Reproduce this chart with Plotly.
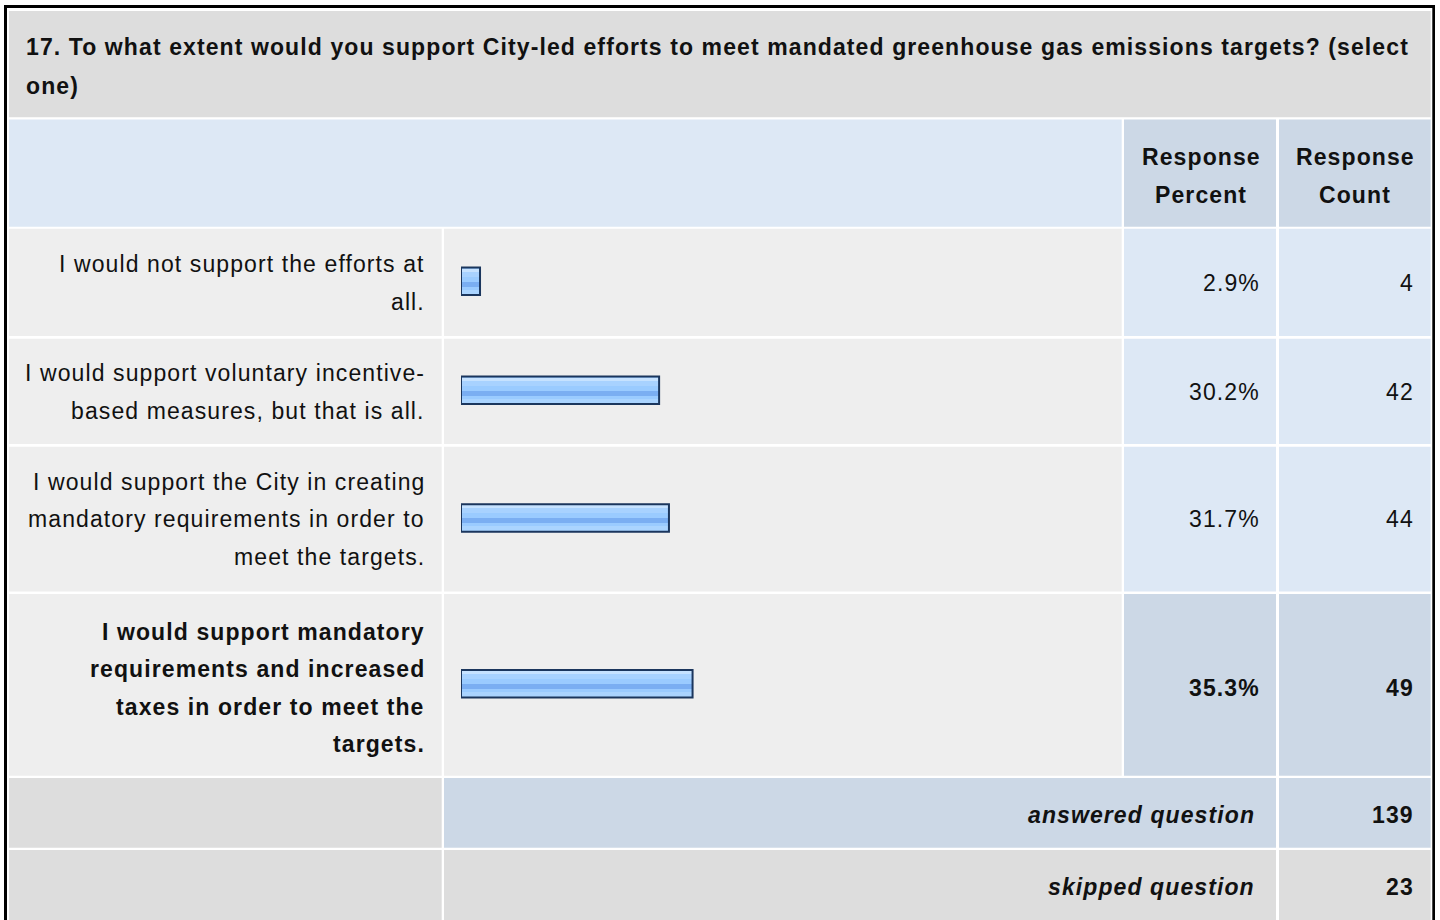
import plotly.graph_objects as go

# ---------------- data ----------------
question_lines = [
    "17. To what extent would you support City-led efforts to meet mandated greenhouse gas emissions targets? (select",
    "one)",
]
answer_options = [
    "I would not support the efforts at<br>all.",
    "I would support voluntary incentive-<br>based measures, but that is all.",
    "I would support the City in creating<br>mandatory requirements in order to<br>meet the targets.",
    "I would support mandatory<br>requirements and increased<br>taxes in order to meet the<br>targets.",
]
response_percent = [2.9, 30.2, 31.7, 35.3]
response_count = [4, 42, 44, 49]
header_labels = ["Response<br>Percent", "Response<br>Count"]
summary_labels = ["answered question", "skipped question"]
summary_counts = [139, 23]

# ---------------- layout constants (pixels) ----------------
W, H = 1440, 920
COL_LABEL = (9, 441.7)
COL_BAR = (444, 1121.7)
COL_PCT = (1124, 1276)
COL_CNT = (1279, 1430.7)
ROW_TITLE = (11, 117.3)
ROW_HEAD = (119.5, 226.7)
ROWS = [(228.7, 336), (338.7, 444), (446.7, 591.5), (594, 775.7)]
ROW_TEXT_Y = [283, 392, 519, 688]
ROW_ANS = (778, 847.7)
ROW_SKIP = (850, 940)
LINE_H = 37.5
BAR_X0, BAR_X1 = 461, 1117
FONT = "Liberation Sans, Arial, Helvetica, sans-serif"
FSIZE = 23
LS = 1.1
TXT = "#111111"
GRAY = "#DDDDDD"
LGRAY = "#EEEEEE"
LBLUE = "#DDE8F5"
DBLUE = "#CCD8E6"

hi = response_percent.index(max(response_percent))


def px(x):
    return x / W


def py(y):
    return 1 - y / H


shapes = []


def rect(x0, x1, y0, y1, color):
    shapes.append(dict(type="rect", xref="paper", yref="paper",
                       x0=px(x0), x1=px(x1), y0=py(y1), y1=py(y0),
                       fillcolor=color, line=dict(width=0), layer="below"))


annotations = []


def text(x, y, s, anchor="right", bold=False, italic=False):
    if anchor == "right":
        x += LS
    annotations.append(dict(
        xref="paper", yref="paper", x=px(x), y=py(y),
        text='<span style="letter-spacing:%spx">%s</span>' % (LS, s),
        xanchor=anchor, yanchor="middle", showarrow=False, borderpad=0,
        font=dict(family=FONT, size=FSIZE, color=TXT,
                  weight="bold" if bold else "normal",
                  style="italic" if italic else "normal"),
    ))


def lines(x, yc, s, anchor="right", bold=False, italic=False, lh=LINE_H):
    parts = s.split("<br>")
    n = len(parts)
    for i, p in enumerate(parts):
        text(x, yc + (i - (n - 1) / 2) * lh, p, anchor, bold, italic)


# outer frame
rect(4, 1435, 5, 8, "#000000")
rect(4, 7, 5, 940, "#000000")
rect(1432.3, 1435, 5, 940, "#000000")

# title
rect(COL_LABEL[0], COL_CNT[1], *ROW_TITLE, GRAY)
for i, ln in enumerate(question_lines):
    text(25, 47 + i * 38.5, ln, anchor="left", bold=True)

# header
rect(COL_LABEL[0], COL_BAR[1], *ROW_HEAD, LBLUE)
rect(*COL_PCT, *ROW_HEAD, DBLUE)
rect(*COL_CNT, *ROW_HEAD, DBLUE)
lines(1201, 176, header_labels[0], anchor="center", bold=True, lh=38)
lines(1355.2, 176, header_labels[1], anchor="center", bold=True, lh=38)

# answer rows
for i, (r0, r1) in enumerate(ROWS):
    rect(*COL_LABEL, r0, r1, LGRAY)
    rect(*COL_BAR, r0, r1, LGRAY)
    c = DBLUE if i == hi else LBLUE
    rect(*COL_PCT, r0, r1, c)
    rect(*COL_CNT, r0, r1, c)
    b = i == hi
    lines(425, ROW_TEXT_Y[i], answer_options[i], bold=b)
    text(1259.5, ROW_TEXT_Y[i], "%.1f%%" % response_percent[i], bold=b)
    text(1413.5, ROW_TEXT_Y[i], str(response_count[i]), bold=b)

# summary rows
rect(*COL_LABEL, *ROW_ANS, GRAY)
rect(COL_BAR[0], COL_PCT[1], *ROW_ANS, DBLUE)
rect(*COL_CNT, *ROW_ANS, DBLUE)
rect(*COL_LABEL, *ROW_SKIP, GRAY)
rect(COL_BAR[0], COL_PCT[1], *ROW_SKIP, GRAY)
rect(*COL_CNT, *ROW_SKIP, GRAY)
for yc, lab, cnt in zip([815, 887], summary_labels, summary_counts):
    text(1255, yc, lab, bold=True, italic=True)
    text(1413.5, yc, str(cnt), bold=True)

# ---------------- bars ----------------
bar_y = [(r0 + r1) / 2 - 1 for r0, r1 in ROWS]
fig = go.Figure()
HALF = 13.75


def bar_layer(color, top, bottom, line=None):
    fig.add_trace(go.Bar(
        x=response_percent, y=bar_y, orientation="h",
        width=bottom - top, offset=top,
        marker=dict(color=color, line=line or dict(width=0)),
        hoverinfo="skip", showlegend=False,
    ))


bar_layer("#9ACBFF", -HALF, HALF)
bar_layer("#C6E2FF", -12.75, -9.75)
bar_layer("#A8D2FF", -9.75, -4.75)
bar_layer("#7AAEF2", 0.25, 5.25)
bar_layer("#AAD4FF", 8.25, 12.75)
bar_layer("rgba(0,0,0,0)", -HALF, HALF, line=dict(color="#1B365D", width=2))

fig.update_layout(
    width=W, height=H, margin=dict(l=0, r=0, t=0, b=0, pad=0),
    paper_bgcolor="#FFFFFF", plot_bgcolor="rgba(0,0,0,0)",
    barmode="overlay", bargap=0,
    xaxis=dict(domain=[px(BAR_X0), px(BAR_X1)], range=[0, 100], visible=False, fixedrange=True),
    yaxis=dict(domain=[0, 1], range=[H, 0], visible=False, fixedrange=True),
    shapes=shapes, annotations=annotations, showlegend=False,
)

fig.write_html(
    "out.html",
    config={"displayModeBar": False, "staticPlot": True},
    post_script="document.body.style.margin='0';document.body.style.overflow='hidden';",
)
